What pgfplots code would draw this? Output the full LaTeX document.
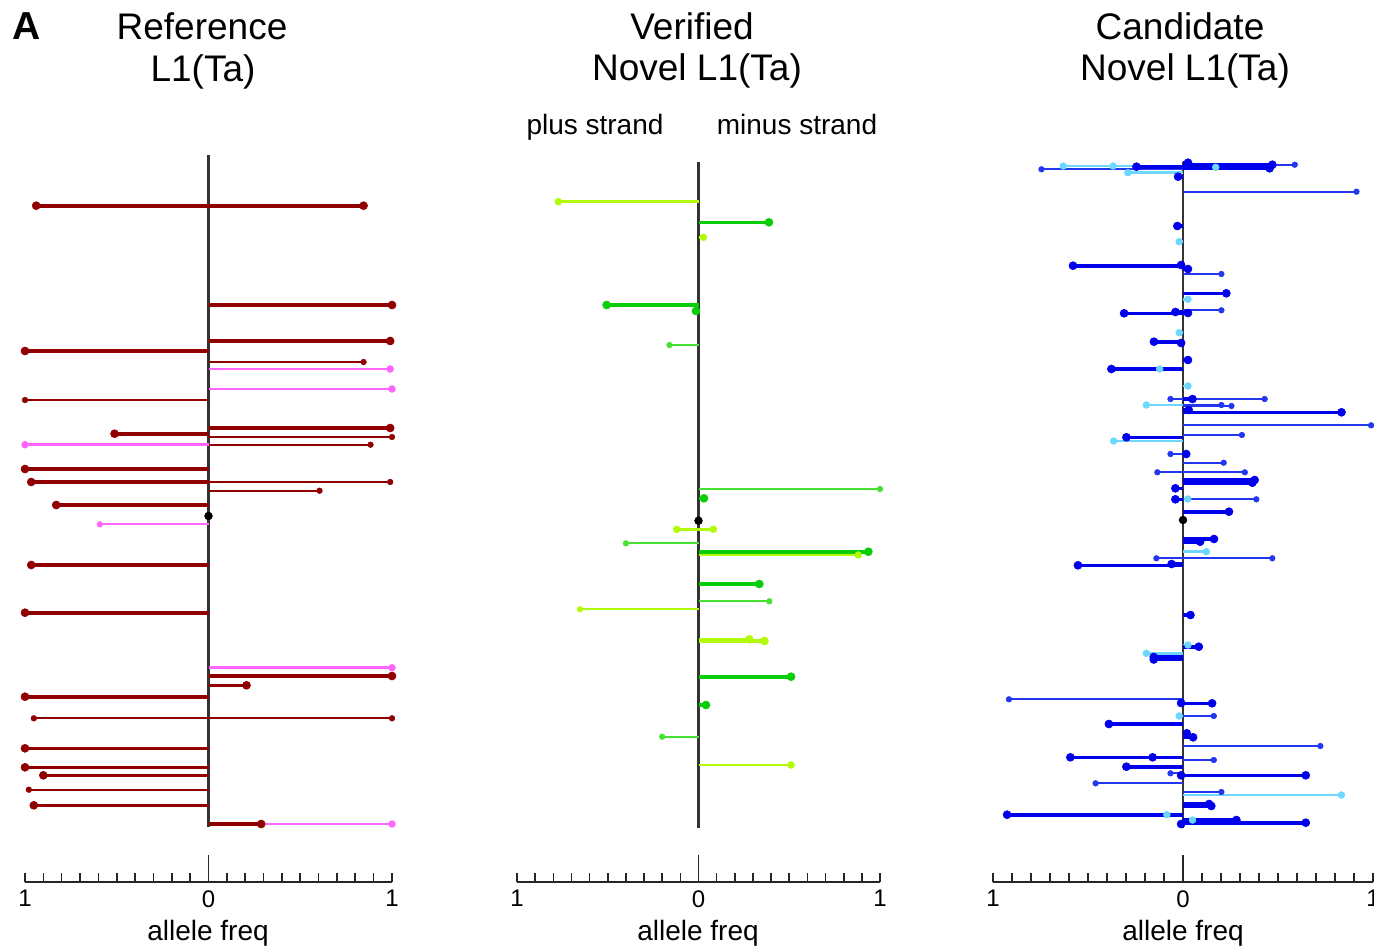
\documentclass[border=0pt]{standalone}
\usepackage{pgfplots}
\pgfplotsset{compat=1.18}
\usepackage{fontspec}
\setmainfont{Liberation Sans}

\definecolor{dred}{RGB}{145,0,0}
\definecolor{pnk}{RGB}{255,102,255}
\definecolor{grn}{RGB}{10,205,10}
\definecolor{lgrn}{RGB}{70,225,50}
\definecolor{ygrn}{RGB}{176,250,10}
\definecolor{blu}{RGB}{0,0,235}
\definecolor{mblu}{RGB}{35,55,240}
\definecolor{lblu}{RGB}{110,215,255}

\pgfplotsset{
  panel/.style={
    anchor=south west, y=0.5pt,
    xmin=-1, xmax=1, ymin=-882, ymax=-150,
    clip=false,
    axis x line=bottom, axis y line=none,
    x axis line style={-, line width=1.3pt, black!85},
    xtick={-1,1}, xticklabels={1,1},
    extra x ticks={0}, extra x tick labels={0},
    extra x tick style={major tick length=13.5pt},
    minor xtick={-0.9,-0.8,...,-0.05,0.1,0.2,...,0.95},
    tick align=inside,
    major tick length=4.5pt, minor tick length=4.5pt,
    every tick/.style={black!85, line width=0.8pt},
    ticklabel style={font=\fontsize{12}{12}\selectfont, inner sep=0pt},
    xticklabel shift=4pt,
    /pgf/number format/assume math mode=true,
  },
  seg/.style={xcomb, mark=*, mark options={solid, line width=0.3pt}},
  thk/.style={seg, line width=1.8pt, mark size=2pt},
  med/.style={seg, line width=1.3pt, mark size=1.7pt},
  thn/.style={seg, line width=0.9pt, mark size=1.4pt},
  stem/.style={black!80, line width=1.1pt},
}

\begin{document}
\begin{tikzpicture}[x=0.5pt, y=0.5pt]
\useasboundingbox (0,0) rectangle (1374,-947);

% ---------- titles ----------
\node[font=\fontsize{19.5}{19.5}\selectfont\bfseries, anchor=base west, inner sep=0pt] at (12,-40) {A};
\begin{scope}[every node/.style={font=\fontsize{18.5}{18.5}\selectfont, anchor=base, inner sep=0pt}]
\node at (202,-40) {Reference};
\node at (203,-82) {L1(Ta)};
\node at (692,-40) {Verified};
\node at (697,-81) {Novel L1(Ta)};
\node at (1180,-40) {Candidate};
\node at (1185,-81) {Novel L1(Ta)};
\end{scope}
\begin{scope}[every node/.style={font=\fontsize{14}{14}\selectfont, anchor=base, inner sep=0pt}]
\node at (595,-134) {plus strand};
\node at (797,-134) {minus strand};
\node at (208,-940) {allele freq};
\node at (698,-940) {allele freq};
\node at (1183,-940) {allele freq};
\end{scope}

% ---------- panel 1: Reference ----------
\begin{axis}[panel, at={(12.5pt,-441pt)}, x=91.75pt]
\addplot[stem] coordinates {(0,-155) (0,-827)};
\addplot[med, pnk] coordinates {
(0.99,-369) (1.0,-389) (-1.0,-444.7) (1.0,-667.7) (1.0,-824)};
\addplot[thn, pnk] coordinates {(-0.592,-524.3)};
\addplot[thk, dred] coordinates {
(-0.939,-205.7) (0.845,-205.7) (1.0,-305) (0.99,-341) (-1.0,-351)
(0.99,-428) (-0.512,-433.7) (-1.0,-469) (-0.966,-482) (-0.83,-505)
(-0.966,-565) (-1.0,-612.7) (1.0,-676) (0.207,-685.3) (-1.0,-696.7)
(-1.0,-748.3) (-1.0,-767.3) (-0.90,-775.3) (-0.952,-805.3) (0.287,-824)};
\addplot[thn, dred] coordinates {
(0.845,-362) (-1.0,-400) (1.0,-437) (0.883,-444.7) (0.99,-482)
(0.605,-490.7) (-0.952,-718.3) (1.0,-718.3) (-0.979,-789.7)};
\addplot[only marks, mark=*, black, mark size=1.9pt] coordinates {(0,-516)};
\end{axis}

% ---------- panel 2: Verified ----------
\begin{axis}[panel, at={(258.5pt,-441pt)}, x=90.75pt]
\addplot[stem] coordinates {(0,-162) (0,-828)};
\addplot[med, ygrn] coordinates {
(-0.772,-201.7) (0.027,-237.3) (-0.12,-529.3) (0.082,-529.3)
(0.88,-555) (0.51,-765)};
\addplot[thn, ygrn] coordinates {(-0.653,-609.3)};
\addplot[thk, ygrn] coordinates {(0.363,-641) (0.28,-639.3)};
\addplot[thn, lgrn] coordinates {
(-0.16,-345) (1.0,-489) (-0.40,-543.3) (0.39,-601.3) (-0.20,-736.7)};
\addplot[thk, grn] coordinates {
(0.388,-222.3) (-0.506,-305) (-0.014,-311) (0.03,-498.3) (0.936,-551.7)
(0.335,-584) (0.51,-676.7) (0.041,-705)};
\addplot[only marks, mark=*, black, mark size=1.9pt] coordinates {(0,-520.7)};
\end{axis}

% ---------- panel 3: Candidate ----------
\begin{axis}[panel, at={(496.5pt,-441pt)}, x=95pt]
\addplot[stem] coordinates {(0,-162) (0,-828)};
\addplot[med, lblu] coordinates {
(-0.63,-166) (-0.368,-166) (-0.29,-172.7) (0.172,-167.3) (-0.02,-241.7)
(0.026,-299.3) (-0.02,-332.7) (-0.123,-369) (0.026,-386) (-0.193,-405)
(-0.365,-441) (0.025,-499) (0.123,-551.7) (0.026,-645) (-0.193,-653.3)
(-0.02,-716) (0.834,-795) (-0.085,-814.7) (0.05,-820)};
\addplot[thn, mblu] coordinates {
(-0.745,-169.3) (0.588,-164.7) (0.913,-191.7) (0.202,-274) (0.202,-310.3)
(0.43,-399) (-0.066,-399) (0.202,-405) (0.255,-406) (0.99,-425.3)
(0.31,-435) (-0.066,-454) (0.214,-462.7) (-0.135,-472.3) (0.325,-472.3)
(0.386,-499.3) (0.47,-558.3) (-0.14,-558.3) (-0.916,-699.3) (0.162,-716)
(0.723,-746) (0.162,-760) (-0.066,-773.3) (-0.46,-783.3) (0.202,-792)};
\addplot[thk, blu] coordinates {
(-0.245,-166.7) (0.47,-164.7) (0.456,-168.3) (0.026,-162.7) (-0.026,-176.7)
(-0.03,-226) (-0.579,-265.7) (-0.01,-265) (0.026,-269) (0.228,-293.3)
(-0.31,-313.3) (-0.04,-312) (0.026,-313) (-0.153,-341.7) (-0.01,-343)
(0.026,-360) (-0.377,-369) (0.05,-399) (0.03,-410) (0.834,-412.3)
(-0.298,-437.3) (0.017,-454) (0.377,-480) (0.365,-482.7) (-0.04,-488.3)
(-0.04,-499.3) (0.242,-511.7) (0.163,-539) (0.09,-541.7) (-0.553,-565.3)
(-0.06,-564) (0.039,-615) (0.083,-646.7) (-0.154,-657) (-0.154,-659.5)
(0.153,-703.3) (-0.01,-703) (-0.39,-724) (0.02,-733.3) (0.053,-737.3)
(-0.593,-757.3) (-0.16,-757.3) (-0.298,-766.7) (0.646,-775.3) (-0.01,-775.3)
(0.137,-804) (0.149,-806) (-0.926,-814.7) (0.281,-820) (0.646,-822.7)
(-0.01,-824)};
\addplot[only marks, mark=*, black, mark size=1.9pt] coordinates {(0,-520)};
\end{axis}
\end{tikzpicture}
\end{document}
